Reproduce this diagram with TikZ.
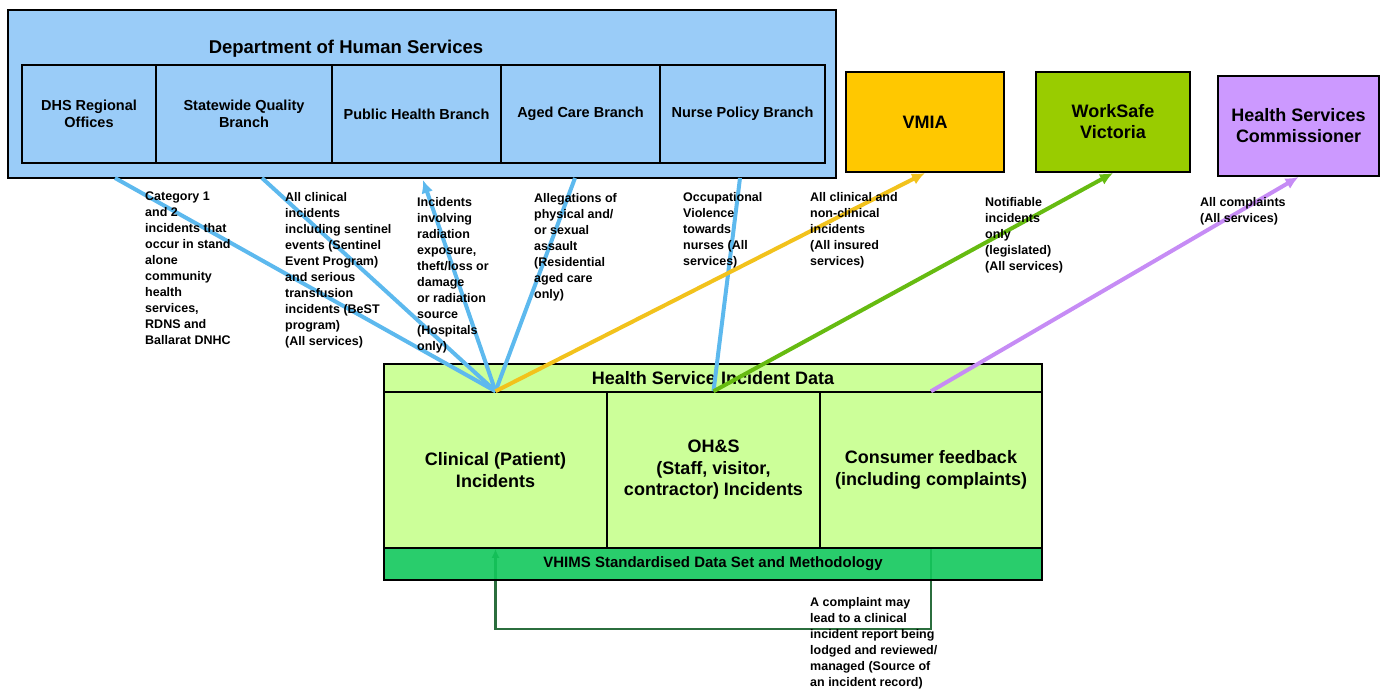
\documentclass[tikz,border=0pt]{standalone}
\usepackage{fontspec}
\setmainfont{Liberation Sans}
\usetikzlibrary{arrows.meta}
\definecolor{dhsblue}{HTML}{9ACCF8}
\definecolor{linkblue}{HTML}{5DB9EE}
\definecolor{vmiaorange}{HTML}{FFC800}
\definecolor{wsgreen}{HTML}{99CC00}
\definecolor{hscpurple}{HTML}{CC99FF}
\definecolor{vmialine}{HTML}{F2C21C}
\definecolor{wsline}{HTML}{66BB11}
\definecolor{hscline}{HTML}{C68CF5}
\definecolor{datagreen}{HTML}{CCFF99}
\definecolor{vhimsgreen}{HTML}{12C85C}
\definecolor{loopgreen}{HTML}{2B6E3D}
\begin{document}
\begin{tikzpicture}[>={Latex[length=13pt,width=12pt]}, x=1pt, y=-1pt,
  branch/.style={draw, line width=1.5pt, fill=dhsblue, align=center, inner sep=0pt,
    minimum height=98pt, font=\bfseries\fontsize{14.5}{17}\selectfont},
  agency/.style={draw, line width=2pt, align=center, inner sep=0pt,
    minimum height=100pt, font=\bfseries\fontsize{18}{21}\selectfont},
  cell/.style={draw, line width=1.5pt, fill=datagreen, align=center, inner sep=0pt,
    font=\bfseries\fontsize{18}{21.5}\selectfont},
  note/.style={anchor=north west, align=left, inner sep=0pt,
    font=\bfseries\fontsize{12.5}{16}\selectfont},
  link/.style={line width=4pt, linkblue}]

\useasboundingbox (0,0) rectangle (1386,691);

% Department of Human Services
\node[draw, line width=2pt, fill=dhsblue, minimum width=828pt, minimum height=168pt] (dhs) at (422,94) {};
\node[font=\bfseries\fontsize{18.5}{21}\selectfont] (dhstitle) at (346,49) {Department of Human Services};
\node[branch, minimum width=134pt] (dhsro) at (89,114) {DHS Regional\\Offices};
\node[branch, minimum width=176pt] (sqb) at (244,114) {Statewide Quality\\Branch};
\node[branch, minimum width=169pt] (phb) at (416.5,114) {Public Health Branch};
\node[branch, minimum width=159pt] (acb) at (580.5,114) {Aged Care Branch};
\node[branch, minimum width=165pt] (npb) at (742.5,114) {Nurse Policy Branch};

% other agencies
\node[agency, fill=vmiaorange, minimum width=158pt] (vmia) at (925,122) {VMIA};
\node[agency, fill=wsgreen, minimum width=154pt] (worksafe) at (1113,122) {WorkSafe\\Victoria};
\node[agency, fill=hscpurple, minimum width=161pt] (hsc) at (1298.5,126) {Health Services\\Commissioner};

% health service data
\node[cell, minimum width=658pt, minimum height=28pt, font=\bfseries\fontsize{18}{20}\selectfont] (hsid) at (713,378) {Health Service Incident Data};
\node[cell, minimum width=223pt, minimum height=156pt] (clinical) at (495.5,470) {Clinical (Patient)\\Incidents};
\node[cell, minimum width=213pt, minimum height=156pt] (ohs) at (713.5,470) {OH\&S\\(Staff, visitor,\\contractor) Incidents};
\node[cell, minimum width=222pt, minimum height=156pt] (consumer) at (931,470) {Consumer feedback\\(including complaints)};

\draw[loopgreen, line width=2.5pt, -{Latex[length=9pt,width=8pt]}] (consumer.south) -- ++(0,80) -| (clinical.south);
\node[draw, line width=1.5pt, fill=vhimsgreen, fill opacity=.9, text opacity=1, minimum width=658pt, minimum height=32pt,
  font=\bfseries\fontsize{15}{17}\selectfont] (vhims) at (713,564) {VHIMS Standardised Data Set and Methodology};

% where the lines meet the DHS box
\coordinate (inro) at (115,178);
\coordinate (insq) at (262,178);
\coordinate (inph) at (423,180);
\coordinate (inac) at (575,178);
\coordinate (innp) at (740,178);

\draw[link] (clinical.north) -- (inro);
\draw[link] (clinical.north) -- (insq);
\draw[link, ->] (clinical.north) -- (inph);
\draw[link] (clinical.north) -- (inac);
\draw[link] (ohs.north) -- (innp);
\draw[line width=4pt, vmialine, ->] (clinical.north) -- (vmia.south);
\draw[line width=4pt, wsline, ->] (ohs.north) -- (worksafe.south);
\draw[line width=4pt, hscline, ->] (consumer.north) -- (hsc.south);

% what is reported
\node[note] (n1) at (145,192) {Category 1\\and 2\\incidents that\\occur in stand\\alone\\community\\health\\services,\\RDNS and\\Ballarat DNHC};
\node[note] (n2) at (285,192) {All clinical\\incidents\\including sentinel\\events (Sentinel\\Event Program)\\and serious\\transfusion\\incidents (BeST\\program)\\(All services)};
\node[note] (n3) at (417,197) {Incidents\\involving\\radiation\\exposure,\\theft/loss or\\damage\\or radiation\\source\\(Hospitals\\only)};
\node[note] (n4) at (534,193) {Allegations of\\physical and/\\or sexual\\assault\\(Residential\\aged care\\only)};
\node[note] (n5) at (683,192) {Occupational\\Violence\\towards\\nurses (All\\services)};
\node[note] (n6) at (810,192) {All clinical and\\non-clinical\\incidents\\(All insured\\services)};
\node[note] (n7) at (985,197) {Notifiable\\incidents\\only\\(legislated)\\(All services)};
\node[note] (n8) at (1200,197) {All complaints\\(All services)};
\node[note] (n9) at (810,597) {A complaint may\\lead to a clinical\\incident report being\\lodged and reviewed/\\managed (Source of\\an incident record)};

\end{tikzpicture}
\end{document}
